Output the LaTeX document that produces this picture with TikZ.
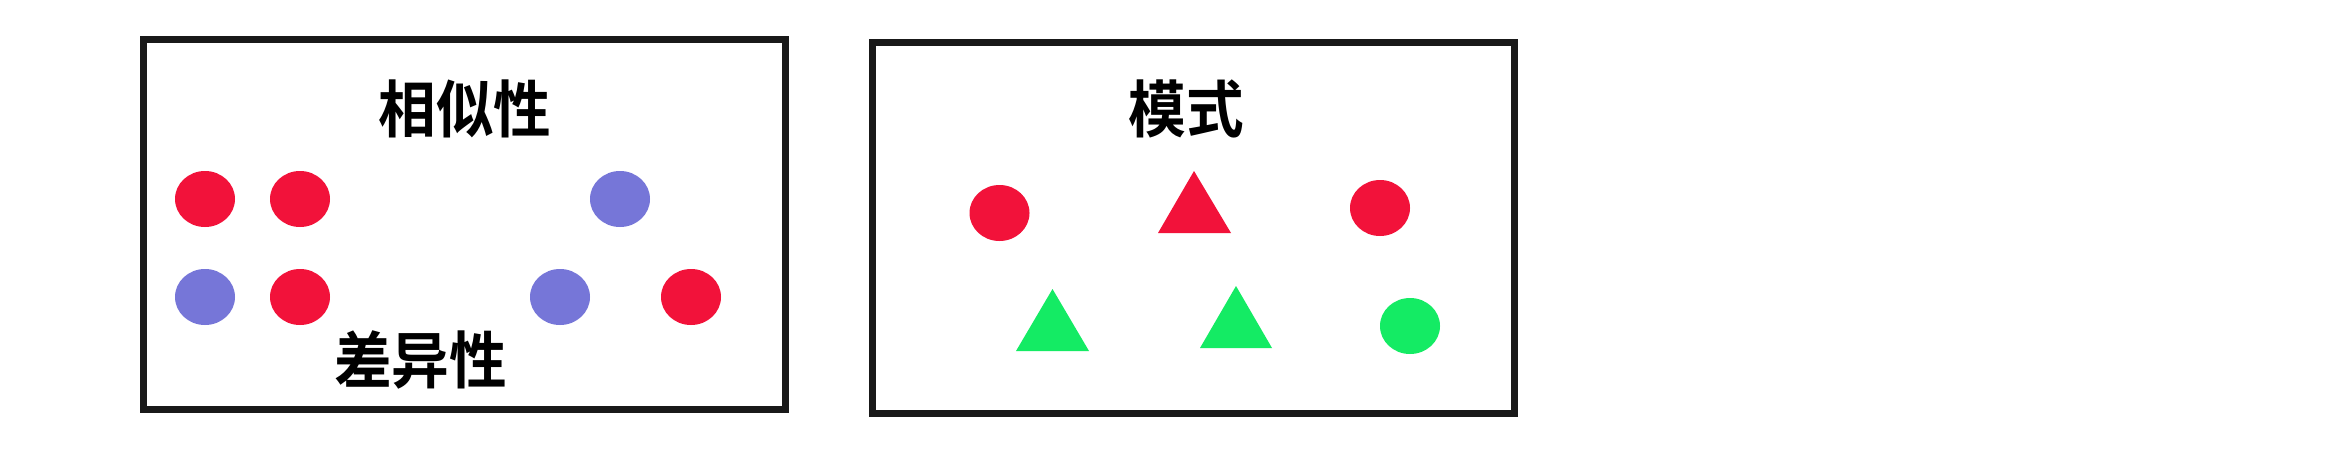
\documentclass[tikz,border=0pt]{standalone}
\usepackage{fontspec}
\usetikzlibrary{shapes.geometric}
\newfontfamily\cjk{Noto Sans CJK SC}[BoldFont={Noto Sans CJK SC Bold}]
\newcommand{\narrowtxt}[1]{\scalebox{0.93}[1]{#1}}
\definecolor{dotred}{RGB}{242,18,58}
\definecolor{dotblue}{RGB}{118,118,216}
\definecolor{dotgreen}{RGB}{20,235,100}
\begin{document}
\begin{tikzpicture}[x=1pt,y=-1pt,
  frame/.style={draw=black!90,line width=7pt,outer sep=0pt,inner sep=0pt,anchor=north west},
  dot/.style={ellipse,draw=none,minimum width=60pt,minimum height=56pt,inner sep=0pt},
  label/.style={font=\cjk\bfseries\fontsize{62}{64}\selectfont,inner sep=0pt,anchor=center}]
\useasboundingbox (0,0) rectangle (2339,448);
\fill[white] (0,0) rectangle (2339,448);
% left box
\node[frame,minimum width=642pt,minimum height=370.5pt] (boxL) at (143.5,39) {};
\node[label] (sim) at (465,109) {\narrowtxt{相似性}};
\node[label] (diff) at (420.5,360) {\narrowtxt{差异性}};
\node[dot,fill=dotred]  (r1) at (205,199) {};
\node[dot,fill=dotred]  (r2) at (300,199) {};
\node[dot,fill=dotblue] (b1) at (620,199) {};
\node[dot,fill=dotblue] (b2) at (205,297) {};
\node[dot,fill=dotred]  (r3) at (300,297) {};
\node[dot,fill=dotblue] (b3) at (560,297) {};
\node[dot,fill=dotred]  (r4) at (691,297) {};
% right box
\node[frame,minimum width=642pt,minimum height=371.5pt] (boxR) at (872.5,42) {};
\node[label] (mode) at (1186,109) {\narrowtxt{模式}};
\node[dot,fill=dotred]   (m1) at (999.5,213) {};
\node[dot,fill=dotred]   (m2) at (1380,208) {};
\node[dot,fill=dotgreen] (m3) at (1410,326) {};
\fill[dotred]   (1194,171) -- (1231,233) -- (1158,233) -- cycle;
\fill[dotgreen] (1052.5,289) -- (1089,351) -- (1016,351) -- cycle;
\fill[dotgreen] (1236,286) -- (1272,348) -- (1200,348) -- cycle;
\end{tikzpicture}
\end{document}
